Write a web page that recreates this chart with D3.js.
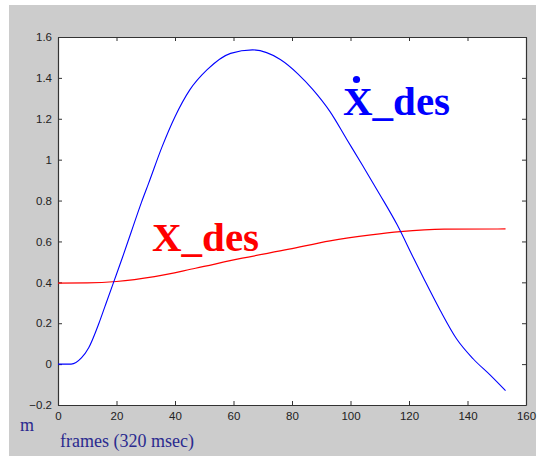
<!DOCTYPE html>
<html>
<head>
<meta charset="utf-8">
<script src="https://cdn.jsdelivr.net/npm/d3@7"></script>
<style>
  body { margin: 0; background: #fff; }
  svg { display: block; }
</style>
</head>
<body>
<script>
// frames (x) and values (y)
var velFrames = [0, 4.5, 8, 10.5, 14, 16, 19, 22, 25, 28.5, 31, 35.5, 40, 45, 51, 59, 66.5, 76, 82, 87, 93, 98.7, 104.4, 110, 116, 121.5, 125, 130.6, 136.3, 142, 147.7, 153];
var velValues = [0, 0, 0.03, 0.08, 0.2, 0.28, 0.40, 0.52, 0.645, 0.79, 0.885, 1.06, 1.21, 1.34, 1.44, 1.52, 1.537, 1.49, 1.42, 1.345, 1.235, 1.10, 0.965, 0.83, 0.68, 0.52, 0.42, 0.265, 0.123, 0.025, -0.053, -0.13];

var posFrames = [0, 10, 20, 33, 47, 63, 79, 93, 107, 117, 132, 153];
var posValues = [0.396, 0.397, 0.404, 0.428, 0.469, 0.518, 0.562, 0.603, 0.632, 0.648, 0.66, 0.661];

var xTicks = [0, 20, 40, 60, 80, 100, 120, 140, 160];
var yTicks = [-0.2, 0, 0.2, 0.4, 0.6, 0.8, 1, 1.2, 1.4, 1.6];

var W = 538, H = 456;
var pL = 58, pR = 526, pT = 37, pB = 405;

var svg = d3.select('body').append('svg')
    .attr('width', W)
    .attr('height', H);

// grey figure background
svg.append('rect')
    .attr('x', 9).attr('y', 5)
    .attr('width', 527).attr('height', 451)
    .style('fill', '#cccccc');

svg.append('rect')
    .attr('x', pL).attr('y', pT)
    .attr('width', pR - pL).attr('height', pB - pT)
    .style('fill', '#fff');

var x = d3.scaleLinear().domain([0, 160]).range([pL, pR]);
var y = d3.scaleLinear().domain([-0.2, 1.6]).range([pB, pT]);

var fmt = function(d){ return d3.format('~g')(d); };

function styleAxis(g){
    g.selectAll('path.domain').style('stroke', '#333').style('stroke-width', 1.2);
    g.selectAll('.tick line').style('stroke', '#333');
    g.selectAll('.tick text')
        .style('font-family', 'Liberation Sans, Arial, sans-serif')
        .style('font-size', '11.5px')
        .style('fill', '#222');
}

svg.append('g')
    .attr('transform', 'translate(0,' + pB + ')')
    .call(d3.axisBottom(x).tickValues(xTicks).tickFormat(fmt).tickSize(-4).tickSizeOuter(0).tickPadding(7))
    .call(styleAxis);
svg.append('g')
    .attr('transform', 'translate(0,' + pT + ')')
    .call(d3.axisTop(x).tickValues(xTicks).tickFormat('').tickSize(-4).tickSizeOuter(0))
    .call(styleAxis);
svg.append('g')
    .attr('transform', 'translate(' + pL + ',0)')
    .call(d3.axisLeft(y).tickValues(yTicks).tickFormat(fmt).tickSize(-4).tickSizeOuter(0).tickPadding(6))
    .call(styleAxis);
svg.append('g')
    .attr('transform', 'translate(' + pR + ',0)')
    .call(d3.axisRight(y).tickValues(yTicks).tickFormat('').tickSize(-4).tickSizeOuter(0))
    .call(styleAxis);

var line = d3.line()
    .x(function(d){ return x(d[0]); })
    .y(function(d){ return y(d[1]); })
    .curve(d3.curveMonotoneX);

var posData = d3.zip(posFrames, posValues);
var velData = d3.zip(velFrames, velValues);

svg.append('path')
    .datum(posData)
    .attr('d', line)
    .style('fill', 'none')
    .style('stroke', '#ff0000')
    .style('stroke-width', 1.2);

svg.append('path')
    .datum(velData)
    .attr('d', line)
    .style('fill', 'none')
    .style('stroke', '#0000ff')
    .style('stroke-width', 1.1);

// curve labels
svg.append('text')
    .attr('x', 152).attr('y', 251)
    .text('X_des')
    .style('font-family', 'Liberation Serif, Times New Roman, serif')
    .style('font-weight', 'bold')
    .style('font-size', '41px')
    .style('fill', '#ff0000');

svg.append('text')
    .attr('x', 343).attr('y', 115)
    .text('X_des')
    .style('font-family', 'Liberation Serif, Times New Roman, serif')
    .style('font-weight', 'bold')
    .style('font-size', '41px')
    .style('fill', '#0000ff');
svg.append('circle')
    .attr('cx', 356.5).attr('cy', 79.5)
    .attr('r', 3.6)
    .style('fill', '#0000ff');

// axis captions
svg.append('text')
    .attr('x', 20).attr('y', 431)
    .text('m')
    .style('font-family', 'Liberation Serif, Times New Roman, serif')
    .style('font-size', '18px')
    .style('fill', '#2a2a8f');

svg.append('text')
    .attr('x', 60).attr('y', 447)
    .text('frames (320 msec)')
    .style('font-family', 'Liberation Serif, Times New Roman, serif')
    .style('font-size', '18px')
    .style('fill', '#2a2a8f');
</script>
</body>
</html>
